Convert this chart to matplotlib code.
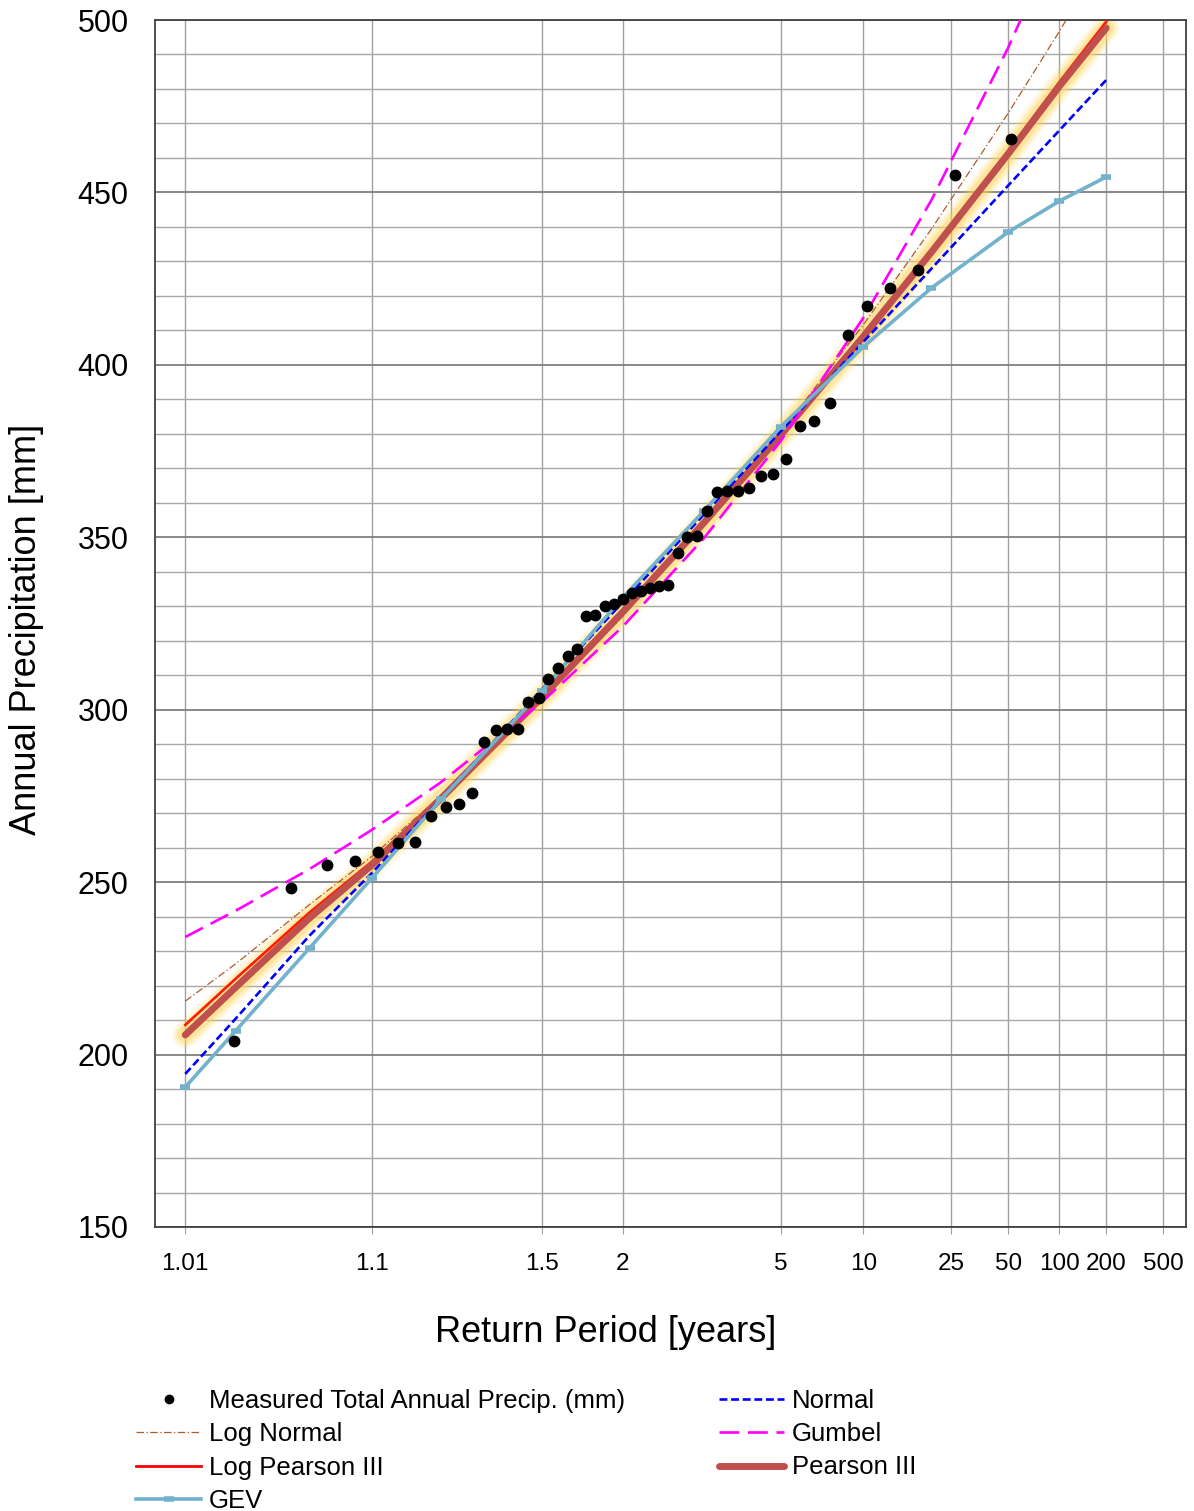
import matplotlib
matplotlib.use("Agg")
import matplotlib.pyplot as plt
import numpy as np
from statistics import NormalDist
from matplotlib.lines import Line2D

plt.rcParams['font.family'] = ['Liberation Sans', 'DejaVu Sans']

# measured total annual precipitation (mm), sorted ascending
measured = [204.0, 248.3, 255.0, 256.2, 258.8, 261.4, 261.7, 269.2, 271.8, 272.7,
            275.9, 290.6, 294.1, 294.4, 294.4, 302.3, 303.4, 308.9, 312.1, 315.6,
            317.6, 327.2, 327.5, 330.1, 330.7, 332.1, 333.9, 334.4, 335.3, 335.9,
            336.2, 345.5, 350.1, 350.4, 357.6, 363.1, 363.4, 363.4, 364.3, 367.8,
            368.4, 372.7, 382.3, 383.7, 389.0, 408.7, 417.1, 422.3, 427.5, 455.1,
            465.5]

# return periods where the fitted curves are evaluated
ret_period = [1.01, 1.02, 1.05, 1.1, 1.2, 1.5, 2, 3, 5, 10, 20, 50, 100, 200]
normal      = [194.4, 210.4, 234.5, 252.7, 274.3, 305.9, 331.2, 356.5, 380.7, 406.6, 427.9, 452.0, 468.0, 482.6]
lognormal   = [215.5, 226.3, 243.5, 257.5, 275.1, 302.7, 327.1, 353.4, 380.4, 411.6, 439.4, 473.0, 496.7, 519.5]
gumbel      = [234.1, 241.7, 253.8, 265.2, 279.0, 302.2, 324.1, 349.6, 377.9, 413.6, 447.8, 492.0, 525.2, 558.3]
pearson3    = [205.7, 219.5, 239.6, 255.0, 274.3, 303.6, 328.3, 354.1, 379.6, 408.2, 432.7, 461.2, 480.8, 497.7]
logpearson3 = [208.6, 222.0, 241.2, 256.0, 274.8, 303.6, 328.3, 354.1, 379.6, 408.4, 433.2, 462.0, 482.0, 499.5]
gev         = [190.6, 206.9, 230.9, 251.2, 274.1, 305.5, 332.5, 357.5, 382.0, 405.2, 422.3, 438.5, 447.5, 454.5]

tick_vals = [1.01, 1.1, 1.5, 2, 5, 10, 25, 50, 100, 200, 500]
tick_labels = ['1.01', '1.1', '1.5', '2', '5', '10', '25', '50', '100', '200', '500']

# weibull plotting position T = (n+1)/m
n = len(measured)
meas_T = [(n + 1) / (n - i) for i in range(n)]

# normal probability scale for return period
nd = NormalDist()
_ppf = np.vectorize(nd.inv_cdf, otypes=[float])
_cdf = np.vectorize(nd.cdf, otypes=[float])

def fwd(t):
    t = np.clip(np.asarray(t, dtype=float), 1.000001, 1e9)
    return _ppf(np.clip(1 - 1 / t, 1e-12, 1 - 1e-12))

def inv(z):
    p = np.clip(_cdf(np.asarray(z, dtype=float)), 0, 1 - 1e-12)
    return 1 / (1 - p)

W, H = 1194, 1511
fig = plt.figure(figsize=(W / 100, H / 100), dpi=100)
ax = fig.add_axes([155 / W, 1 - 1227 / H, 1031 / W, 1207 / H])
ax.set_xscale('function', functions=(fwd, inv))
ax.set_xlim(1.0064, 743)
ax.set_ylim(150, 500)

ax.set_xticks(tick_vals)
ax.set_xticklabels(tick_labels)
ax.xaxis.set_minor_locator(matplotlib.ticker.NullLocator())
ax.set_yticks(range(150, 501, 50))
ax.set_yticks(range(150, 501, 10), minor=True)
ax.tick_params(axis='x', which='major', labelsize=17.5, direction='out', length=5,
               color='#A0A0A0', pad=14)
ax.tick_params(axis='y', which='major', labelsize=22, length=0, pad=19)
ax.tick_params(axis='y', which='minor', length=0)

ax.yaxis.grid(True, which='major', color='#7F7F7F', lw=1.3)
ax.yaxis.grid(True, which='minor', color='#A8A8A8', lw=1.0)
ax.xaxis.grid(True, which='major', color='#A0A0A0', lw=1.0)
ax.set_axisbelow(True)
for s in ax.spines.values():
    s.set_color('#404040')
    s.set_linewidth(1.3)

# glow behind pearson III
for lw, a in [(19, 0.14), (15, 0.22), (11, 0.35)]:
    ax.plot(ret_period, pearson3, color='#FFD24D', lw=lw, alpha=a,
            solid_capstyle='round', zorder=2)

ax.plot(ret_period, lognormal, color='#B05A28', lw=0.9,
        linestyle=(0, (6, 2, 1, 2)), zorder=3)
ax.plot(ret_period, logpearson3, color='#FF1A00', lw=1.9, zorder=3)
ax.plot(ret_period, pearson3, color='#C0504D', lw=5, solid_capstyle='round', zorder=4)
ax.plot(ret_period, normal, color='#0000FF', lw=1.9, linestyle=(0, (3, 1.4)), zorder=5)
ax.plot(ret_period, gumbel, color='#FF00FF', lw=1.9, linestyle=(0, (7.5, 3.3)), zorder=5)
ax.plot(ret_period, gev, color='#72B2CC', lw=2.6, marker='_', ms=7, mew=4, zorder=6)
ax.plot(meas_T, measured, 'o', color='black', ms=7.5, zorder=7)

fig.text(27 / W, 1 - 629 / H, 'Annual Precipitation [mm]', rotation=90,
         ha='center', va='center', fontsize=26)
fig.text(606 / W, 1 - 1333 / H, 'Return Period [years]',
         ha='center', va='center', fontsize=26)

handles = [
    Line2D([], [], ls='none', marker='o', color='black', ms=6),
    Line2D([], [], color='#B05A28', lw=0.9, ls=(0, (6, 2, 1, 2))),
    Line2D([], [], color='#FF0000', lw=2),
    Line2D([], [], color='#72B2CC', lw=2.6, marker='_', ms=7, mew=4),
    Line2D([], [], color='#0000FF', lw=1.9, ls=(0, (3, 1.4))),
    Line2D([], [], color='#FF00FF', lw=1.9, ls=(0, (7.5, 3.3))),
    Line2D([], [], color='#C0504D', lw=5, solid_capstyle='round'),
]
labels = ['Measured Total Annual Precip. (mm)', 'Log Normal', 'Log Pearson III', 'GEV',
          'Normal', 'Gumbel', 'Pearson III']
fig.legend(handles, labels, loc='upper left', bbox_to_anchor=(136 / W, 1 - 1389 / H),
           ncol=2, frameon=False, fontsize=18.5, handlelength=2.53, handletextpad=0.3,
           columnspacing=3.67, labelspacing=0.36, borderpad=0, borderaxespad=0,
           numpoints=1)

fig.savefig('out.png', dpi=100)
